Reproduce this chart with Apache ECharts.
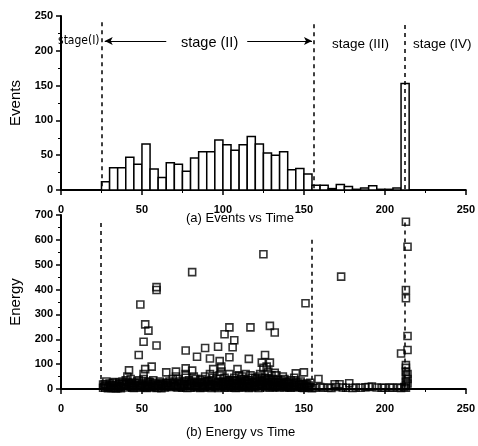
<!DOCTYPE html>
<html><head><meta charset="utf-8">
<script src="https://cdn.jsdelivr.net/npm/echarts@6/dist/echarts.min.js"></script>
<style>html,body{margin:0;padding:0;background:#fff}#c{width:478px;height:446px}</style>
</head><body><div id="c"></div>
<script>
// ---- data ----
const binStarts = [25,30,35,40,45,50,55,60,65,70,75,80,85,90,95,100,105,110,115,120,125,130,135,140,145,150,155,160,165,170,175,180,185,190,195,200,205,210];
const binCounts = [12,32,32,47,37,66,30,18,39,37,27,46,55,55,72,65,57,65,77,66,53,50,55,29,31,23,7,7,2,8,5,1,3,6,1,1,3,153];
const binWidth = 5;
const xTicks = [0,50,100,150,200,250];
const eventTicks = [0,50,100,150,200,250];
const energyTicks = [0,100,200,300,400,500,600,700];
const stageBounds = [25, 156, 212];
const energyLow = [
[26,5],[27,12],[28,30],[29,8],[27,20],[29,3],[31,15],[32,25],[33,6],[34,18],[30,10],[33,28],[34,2],
[36,20],[37,8],[38,30],[39,14],[35,4],[38,22],[40,35],[41,50],[42,15],[43,20],[44,10],[41,28],[43,40],[44,5],
[46,25],[47,12],[48,35],[49,5],[45,18],[47,30],[50,8],[51,60],[52,80],[53,25],[54,10],[51,40],[52,15],[54,30],[53,4],
[56,20],[57,35],[58,8],[59,15],[55,28],[60,5],[61,30],[62,12],[63,25],[64,6],[62,20],[66,15],[67,30],[68,8],[69,40],[65,22],[70,12],
[71,50],[72,18],[73,30],[74,8],[72,40],[75,22],[76,28],[77,45],[78,12],[79,35],[80,5],[78,20],[77,60],
[81,30],[82,15],[83,40],[84,8],[82,50],[85,25],[86,35],[87,10],[88,28],[89,50],[90,15],[87,40],[88,5],
[91,30],[92,60],[93,20],[94,45],[95,8],[91,12],[93,35],[96,40],[97,15],[98,55],[99,25],[100,10],[97,30],[99,70],
[101,45],[102,20],[103,35],[104,60],[105,8],[102,30],[104,15],[106,25],[107,45],[108,12],[109,35],[110,55],[107,5],[109,20],
[111,30],[112,15],[113,40],[114,60],[115,22],[112,50],[114,8],[116,35],[117,20],[118,45],[119,10],[120,30],[117,55],[119,25],
[121,40],[122,15],[123,60],[124,30],[125,85],[122,50],[124,10],[126,45],[127,20],[128,70],[129,35],[130,55],[127,90],[128,12],
[131,40],[132,25],[133,55],[134,15],[135,30],[132,65],[136,35],[137,20],[138,40],[139,10],[140,25],[137,50],
[141,20],[142,35],[143,10],[144,45],[145,15],[142,5],[146,25],[147,10],[148,30],[149,5],[150,15],
[151,12],[152,20],[153,5],[154,8],[155,3],
[28,14],[32,4],[36,10],[40,18],[44,24],[48,16],[52,6],[56,10],[60,18],[64,14],[68,22],[72,6],[76,12],[80,20],
[84,18],[88,14],[92,8],[96,22],[100,28],[104,36],[108,22],[112,6],[116,12],[120,16],[124,20],[128,26],[132,8],[136,14],[140,8],[144,22],[148,18],
[26,18],[28,6],[30,22],[31,4],[33,14],[35,12],[36,26],[37,3],[39,20],[40,6],[42,24],[43,9],[45,4],[46,14],[48,24],[49,12],
[50,20],[51,10],[53,14],[54,20],[55,6],[57,14],[58,24],[59,4],[60,12],[61,20],[62,3],[63,16],[65,8],[66,24],[67,12],[69,18],
[70,26],[71,8],[73,14],[74,22],[75,5],[76,18],[78,4],[79,14],[80,26],[81,10],[82,24],[83,6],[84,26],[85,12],[86,4],[87,20],
[89,8],[89,26],[90,32],[91,20],[92,14],[93,4],[94,16],[95,26],[96,10],[97,4],[98,18],[99,12],[100,20],[101,6],[101,26],[102,12],
[103,20],[103,5],[104,26],[105,18],[106,10],[106,36],[107,24],[108,4],[108,32],[109,12],[110,20],[110,6],[111,14],[111,40],[112,24],
[113,8],[113,20],[114,30],[115,10],[115,36],[116,4],[116,22],[117,12],[118,26],[118,6],[119,18],[120,8],[120,44],[121,14],[121,26],
[122,4],[123,20],[123,36],[124,44],[125,14],[125,30],[126,6],[126,24],[127,12],[127,36],[128,42],[129,6],[129,18],[130,12],[130,30],
[131,6],[131,20],[132,14],[133,8],[133,28],[134,22],[134,38],[135,6],[135,16],[136,24],[137,10],[138,6],[138,20],[139,28],[140,14],
[141,6],[141,30],[143,22],[144,10],[145,28],[146,6],[147,18],[148,8],[149,20],[150,4],[151,22],[152,8],[153,14]
];
const energyLate = [
[157,5],[159,40],[160,8],[162,5],[165,6],[167,4],[169,19],[170,8],[172,19],[174,6],[176,5],[178,23],[180,4],[182,6],
[185,5],[188,7],[190,8],[192,10],[195,6],[198,5],[200,5],[203,6],[205,5],[208,6],[210,4],
[213,673],[214,572],[213,398],[213,365],[214,213],[214,157],[210,143],[213,96],[213,70],[213,50],[213,29],[213,15],[213,5],[214,40],[213,85],[214,60],[214,22],[212,8]
];
const energyHigh = [
[49,340],[52,260],[54,235],[51,190],[59,175],[48,137],[56,90],[42,75],[59,398],[59,410],[81,470],[77,155],[84,130],[89,165],
[97,170],[92,123],[98,112],[94,80],[99,90],[71,70],[65,67],[77,83],[81,74],[104,128],[101,220],[104,248],[107,196],[106,168],
[109,80],[117,248],[129,254],[132,227],[116,121],[124,106],[126,137],[129,106],[125,542],[151,345],[145,63],[150,67],[173,452],[154,25]
];
const energyAll = energyLow.concat(energyLate, energyHigh);

const tickFont = {fontFamily:'"Liberation Sans Narrow","Liberation Sans",sans-serif', fontWeight:'bold', fontSize:11, color:'#000'};
const black = '#000';

function xAxisDef(gi){
  return {type:'value', gridIndex:gi, min:0, max:250, interval:50,
    axisLine:{lineStyle:{color:black,width:2}},
    axisTick:{length:5,lineStyle:{color:black,width:1.5}},
    minorTick:{show:true,splitNumber:2,length:3,lineStyle:{color:black,width:1}},
    splitLine:{show:false},
    axisLabel:Object.assign({margin:14,formatter:v=>xTicks.includes(v)?String(v):''},tickFont)};
}
function yAxisDef(gi,max,interval,name,ticks){
  return {type:'value', gridIndex:gi, min:0, max:max, interval:interval,
    name:name, nameLocation:'middle', nameGap:38, nameRotate:90,
    nameTextStyle:{fontFamily:'"Liberation Sans",Arial,sans-serif',fontSize:15,color:black,letterSpacing:1},
    axisLine:{show:true,lineStyle:{color:black,width:2}},
    axisTick:{show:true,length:5,lineStyle:{color:black,width:1.5}},
    minorTick:{show:true,splitNumber:2,length:3,lineStyle:{color:black,width:1}},
    splitLine:{show:false},
    axisLabel:Object.assign({margin:8,formatter:v=>ticks.includes(v)?String(v):''},tickFont)};
}
const dash = {type:[4,4], color:black, width:1.5};
const chart = echarts.init(document.getElementById('c'), null, {renderer:'canvas'});
chart.setOption({
  animation:false,
  grid:[{left:57,right:10,top:16,height:174},{left:57,right:10,top:215,height:174}],
  xAxis:[xAxisDef(0), xAxisDef(1)],
  yAxis:[yAxisDef(0,250,50,'Events',eventTicks), yAxisDef(1,700,100,'Energy',energyTicks)],
  title:[
    {text:'(a) Events vs Time', top:212, textStyle:{fontFamily:'"Liberation Sans",Arial,sans-serif',fontSize:13,fontWeight:'normal',color:black}, padding:0, left:186},
    {text:'(b) Energy vs Time', top:426, textStyle:{fontFamily:'"Liberation Sans",Arial,sans-serif',fontSize:13,fontWeight:'normal',color:black}, padding:0, left:186}
  ],
  graphic:[
    {type:'text', left:58, top:35, style:{text:'stage(I)', fontFamily:'"Liberation Sans Narrow","DejaVu Sans Condensed",sans-serif', fontSize:12, fill:black}},
    {type:'text', left:181, top:35, style:{text:'stage (II)', fontFamily:'"Liberation Sans",Arial,sans-serif', fontSize:14.5, fill:black}},
    {type:'text', left:332, top:37, style:{text:'stage (III)', fontFamily:'"Liberation Sans",Arial,sans-serif', fontSize:13.5, fill:black}},
    {type:'text', left:413, top:37, style:{text:'stage (IV)', fontFamily:'"Liberation Sans",Arial,sans-serif', fontSize:13.5, fill:black}}
  ],
  series:[
    {type:'custom', xAxisIndex:0, yAxisIndex:0,
      data: binStarts.map((s,i)=>[s, s+binWidth, binCounts[i]]),
      encode:{x:[0,1], y:2},
      renderItem:function(params, api){
        const p0 = api.coord([api.value(0), api.value(2)]);
        const p1 = api.coord([api.value(1), 0]);
        return {type:'rect', shape:{x:p0[0], y:p0[1], width:p1[0]-p0[0], height:p1[1]-p0[1]},
          style:{fill:'#fff', stroke:black, lineWidth:1.5}};
      },
      markLine:{silent:true, symbol:'none', label:{show:false}, lineStyle:dash, data:[
        [{coord:[stageBounds[0],241]},{coord:[stageBounds[0],0]}],
        [{coord:[stageBounds[1],238]},{coord:[stageBounds[1],0]}],
        [{coord:[stageBounds[2],237]},{coord:[stageBounds[2],0]}],
        [{coord:[65,214], symbol:'none', lineStyle:{type:'solid',width:1.2,color:black}},{coord:[27,214], symbol:'arrow', symbolSize:[6,8], lineStyle:{type:'solid',width:1.2,color:black}}],
        [{coord:[115,214], symbol:'none', lineStyle:{type:'solid',width:1.2,color:black}},{coord:[155,214], symbol:'arrow', symbolSize:[6,8], lineStyle:{type:'solid',width:1.2,color:black}}]
      ]}
    },
    {type:'scatter', xAxisIndex:1, yAxisIndex:1, data:energyAll, symbol:'rect', symbolSize:7,
      itemStyle:{color:'rgba(0,0,0,0)', borderColor:black, borderWidth:1.6},
      markLine:{silent:true, symbol:'none', label:{show:false}, lineStyle:dash, data:[
        [{coord:[24.5,668]},{coord:[24.5,0]}],
        [{coord:[155,600]},{coord:[155,0]}],
        [{coord:[212.5,670]},{coord:[212.5,0]}]
      ]}
    }
  ]
});
</script></body></html>
